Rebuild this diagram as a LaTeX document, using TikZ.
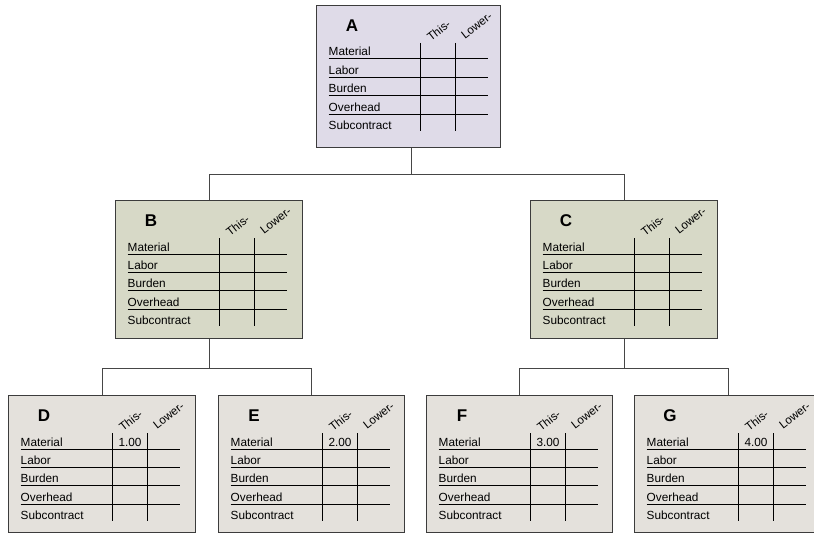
\documentclass[tikz,border=0pt]{standalone}
\usepackage{fontspec}
\setmainfont{Liberation Sans}
\definecolor{fillA}{RGB}{223,219,232}
\definecolor{fillB}{RGB}{215,217,199}
\definecolor{fillD}{RGB}{228,225,220}
\definecolor{edge}{RGB}{60,60,60}
\definecolor{conn}{RGB}{70,70,70}
\tikzset{
  boxbase/.style={draw=edge, line width=1.4pt, rectangle, inner sep=0pt, minimum width=187pt, anchor=north west},
  topbox/.style={boxbase, fill=fillA},
  midbox/.style={boxbase, fill=fillB},
  leafbox/.style={boxbase, fill=fillD},
  title/.style={font=\fontsize{17}{17}\selectfont\bfseries, inner sep=0pt},
  rowlabel/.style={font=\fontsize{11.8}{13}\selectfont, inner sep=0pt, anchor=base west},
  hdr/.style={font=\fontsize{11.6}{13}\selectfont, inner sep=0pt, anchor=base west, rotate=38},
  val/.style={font=\fontsize{11.8}{13}\selectfont, inner sep=0pt, anchor=base},
  grid/.style={draw=black, line width=1pt},
  connector/.style={draw=conn, line width=1.3pt},
}
% #1 name, #2 x, #3 y, #4 height, #5 style, #6 letter, #7 value, #8 width
\newcommand{\costbox}[8]{%
  \node[#5, minimum height=#4pt, minimum width=#8pt] (#1) at (#2,#3) {};
  \begin{scope}[shift={(#1.north west)}]
    \node[title] (#1-t) at (36,21) {#6};
    \foreach \lab/\yy in {Material/51, Labor/69.3, Burden/87.6, Overhead/106, Subcontract/124.3}
      \node[rowlabel] at (12.5,\yy) {\lab};
    \foreach \yy in {54, 72.3, 90.6, 109}
      \draw[grid] (12.5,\yy) -- (172,\yy);
    \draw[grid] (104.5,38) -- (104.5,126);
    \draw[grid] (139.5,38) -- (139.5,126);
    \node[hdr] (#1-h1) at (115,37) {This-};
    \node[hdr] (#1-h2) at (149,35) {Lower-};
    \node[val] (#1-v) at (122,51) {#7};
  \end{scope}}
\begin{document}
\begin{tikzpicture}[x=1pt,y=-1pt]
  \useasboundingbox (0,0) rectangle (814,535);
  \costbox{A}{316}{5}{142}{topbox}{A}{}{184}
  \costbox{B}{115}{200}{138}{midbox}{B}{}{187}
  \costbox{C}{530}{200}{138}{midbox}{C}{}{187}
  \costbox{D}{8}{395}{137}{leafbox}{D}{1.00}{187}
  \costbox{E}{218}{395}{137}{leafbox}{E}{2.00}{186}
  \costbox{F}{426}{395}{137}{leafbox}{F}{3.00}{186}
  \costbox{G}{634}{395}{137}{leafbox}{G}{4.00}{187}
  \draw[connector] ([xshift=3pt]A.south) -- ++(0,26) -| (B.north);
  \draw[connector] ([xshift=3pt]A.south) -- ++(0,26) -| (C.north);
  \draw[connector] (B.south) -- ++(0,29) -| (D.north);
  \draw[connector] (B.south) -- ++(0,29) -| (E.north);
  \draw[connector] (C.south) -- ++(0,29) -| (F.north);
  \draw[connector] (C.south) -- ++(0,29) -| (G.north);
\end{tikzpicture}
\end{document}
